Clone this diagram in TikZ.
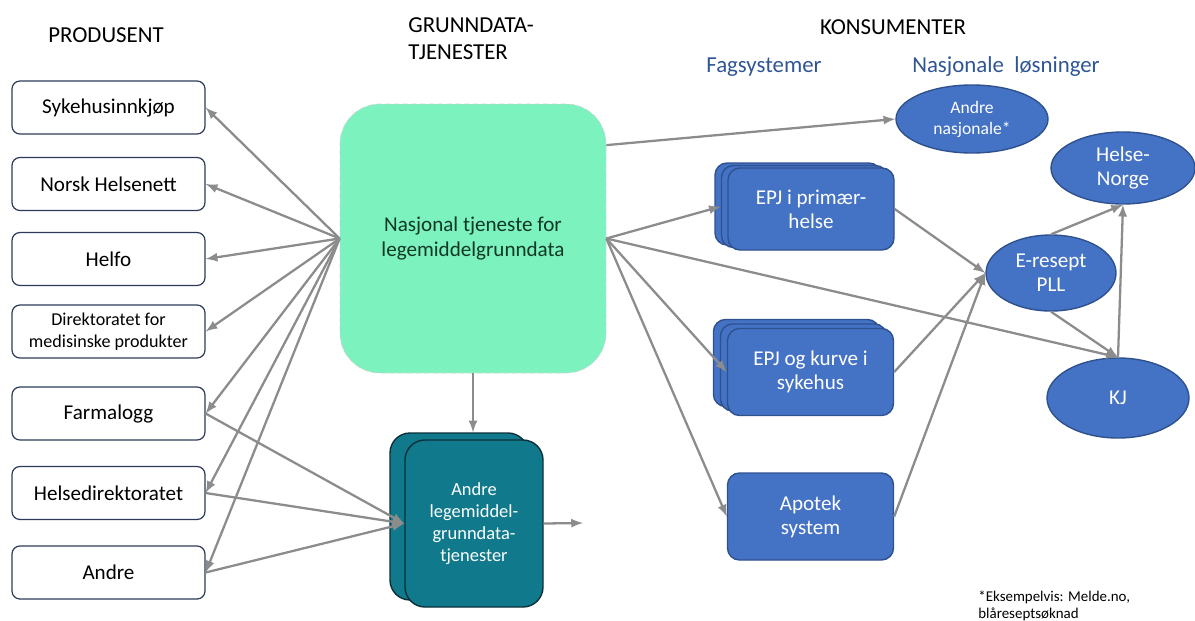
\documentclass[tikz,border=0pt]{standalone}
\usepackage{fontspec}
\setmainfont{Carlito}
\usetikzlibrary{shapes.geometric}

\definecolor{mint}{RGB}{124,242,190}
\definecolor{tealbox}{RGB}{16,122,140}
\definecolor{tealline}{RGB}{12,48,58}
\definecolor{bluebox}{RGB}{68,114,196}
\definecolor{blueline}{RGB}{47,82,143}
\definecolor{headblue}{RGB}{47,85,151}
\definecolor{prodline}{RGB}{46,58,89}
\definecolor{arrowgray}{RGB}{140,140,140}
\definecolor{darkgreen}{RGB}{16,56,38}

\begin{document}
\begin{tikzpicture}[
    prod/.style={rectangle, draw=prodline, line width=0.7pt, rounded corners=4.5pt, minimum width=3.86cm, minimum height=1.06cm, align=center, font=\fontsize{12}{14}\selectfont},
    hub/.style={rectangle, fill=mint, draw=gray!35, densely dashed, rounded corners=0.8cm, minimum width=5.32cm, minimum height=5.38cm, align=center, text=darkgreen, font=\fontsize{12}{13.7}\selectfont},
    grunn/.style={rectangle, fill=tealbox, draw=tealline, line width=0.8pt, rounded corners=0.4cm, minimum width=2.76cm, minimum height=3.34cm, align=center, text=white, font=\fontsize{10.5}{12.5}\selectfont},
    fag/.style={rectangle, fill=bluebox, draw=blueline, line width=0.8pt, rounded corners=0.24cm, minimum width=3.32cm, align=center, text=white, font=\fontsize{12}{13.7}\selectfont},
    nasj/.style={ellipse, fill=bluebox, draw=blueline, line width=0.8pt, inner sep=0pt, align=center, text=white, font=\fontsize{12}{13.5}\selectfont},
    head/.style={font=\fontsize{13}{15.5}\selectfont},
    subhead/.style={head, text=headblue},
    arrow/.style={-latex, line width=1.3pt, arrowgray}
]

\useasboundingbox (0,0) rectangle (23.9,12.4);

% Headers
\node[head] (hprod) at (2.12,11.70) {PRODUSENT};
\node[head, anchor=west, align=left, inner sep=0pt] (hgrunn) at (8.16,11.63) {GRUNNDATA-\\TJENESTER};
\node[head] (hkons) at (17.86,11.86) {KONSUMENTER};
\node[subhead] (hfag) at (15.28,11.06) {Fagsystemer};
\node[subhead] (hnasj) at (20.12,11.06) {Nasjonale\ \ løsninger};

% Producer boxes
\node[prod] (p1) at (2.17,10.25) {Sykehusinnkjøp};
\node[prod] (p2) at (2.17,8.72)  {Norsk Helsenett};
\node[prod] (p3) at (2.17,7.22)  {Helfo};
\node[prod, inner sep=2pt, font=\fontsize{10.3}{12.5}\selectfont] (p4) at (2.17,5.77) {Direktoratet for\\medisinske produkter};
\node[prod] (p5) at (2.17,4.13)  {Farmalogg};
\node[prod] (p6) at (2.17,2.54)  {Helsedirektoratet};
\node[prod] (p7) at (2.17,0.95)  {Andre};

% Grunndata services
\node[hub] (hub) at (9.46,7.63) {Nasjonal tjeneste for\\legemiddelgrunndata};
\node[grunn] (grunnb) at (9.18,2.07) {};
\node[grunn] (grunn)  at (9.48,1.93) {Andre\\legemiddel-\\grunndata-\\tjenester};
\coordinate (grunnut) at (11.66,1.94);

% Fagsystemer (stacked)
\node[fag, minimum height=1.64cm] (epj1c) at (15.96,8.32) {};
\node[fag, minimum height=1.64cm] (epj1b) at (16.09,8.27) {};
\node[fag, minimum height=1.64cm] (epj1)  at (16.22,8.22) {EPJ i primær-\\helse};
\node[fag, minimum height=1.74cm] (epj2c) at (15.93,5.14) {};
\node[fag, minimum height=1.74cm] (epj2b) at (16.07,5.05) {};
\node[fag, minimum height=1.74cm] (epj2)  at (16.21,4.96) {EPJ og kurve i\\sykehus};
\node[fag, minimum height=1.74cm] (apotek) at (16.21,2.07) {Apotek\\system};

% Nasjonale losninger
\node[nasj, minimum width=3.04cm, minimum height=1.36cm, font=\fontsize{10}{12}\selectfont] (andre) at (19.44,10.02) {Andre\\nasjonale*};
\node[nasj, minimum width=2.88cm, minimum height=1.44cm] (hn)  at (22.46,9.04) {Helse-\\Norge};
\node[nasj, minimum width=2.6cm,  minimum height=1.52cm] (erp) at (21.02,6.94) {E-resept\\PLL};
\node[nasj, minimum width=2.84cm, minimum height=1.6cm]  (kj)  at (22.36,4.44) {KJ};

% Footnote
\node[anchor=west, align=left, inner sep=0pt, font=\fontsize{8.5}{9.7}\selectfont] (note) at (19.56,0.28) {*Eksempelvis: Melde.no,\\blåreseptsøknad};

% Hub to producers
\foreach \i in {1,...,7}{
    \draw[arrow] (hub.west) -- (p\i.east);
}

% Producers to other services
\foreach \i in {5,6,7}{
    \draw[arrow] (p\i.east) -- (grunn.west);
}
\draw[arrow] (hub.south) -- (hub.south |- grunnb.north);
\draw[arrow] (grunn.east) -- (grunnut);

% Hub to consumers
\draw[arrow] (hub.35) -- (andre.west);
\draw[arrow] (hub.east) -- (epj1b.west);
\draw[arrow] (hub.east) -- (epj2.west);
\draw[arrow] (hub.east) -- (apotek.west);
\draw[arrow] (hub.east) -- (kj.north);

% Fagsystemer to national solutions
\foreach \n in {epj1,epj2,apotek}{
    \draw[arrow] (\n.east) -- (erp.west);
}
\draw[arrow] (erp.north) -- (hn.south);
\draw[arrow] (kj.north) -- (hn.south);
\draw[arrow] (erp.south) -- (kj.north);

\end{tikzpicture}
\end{document}
